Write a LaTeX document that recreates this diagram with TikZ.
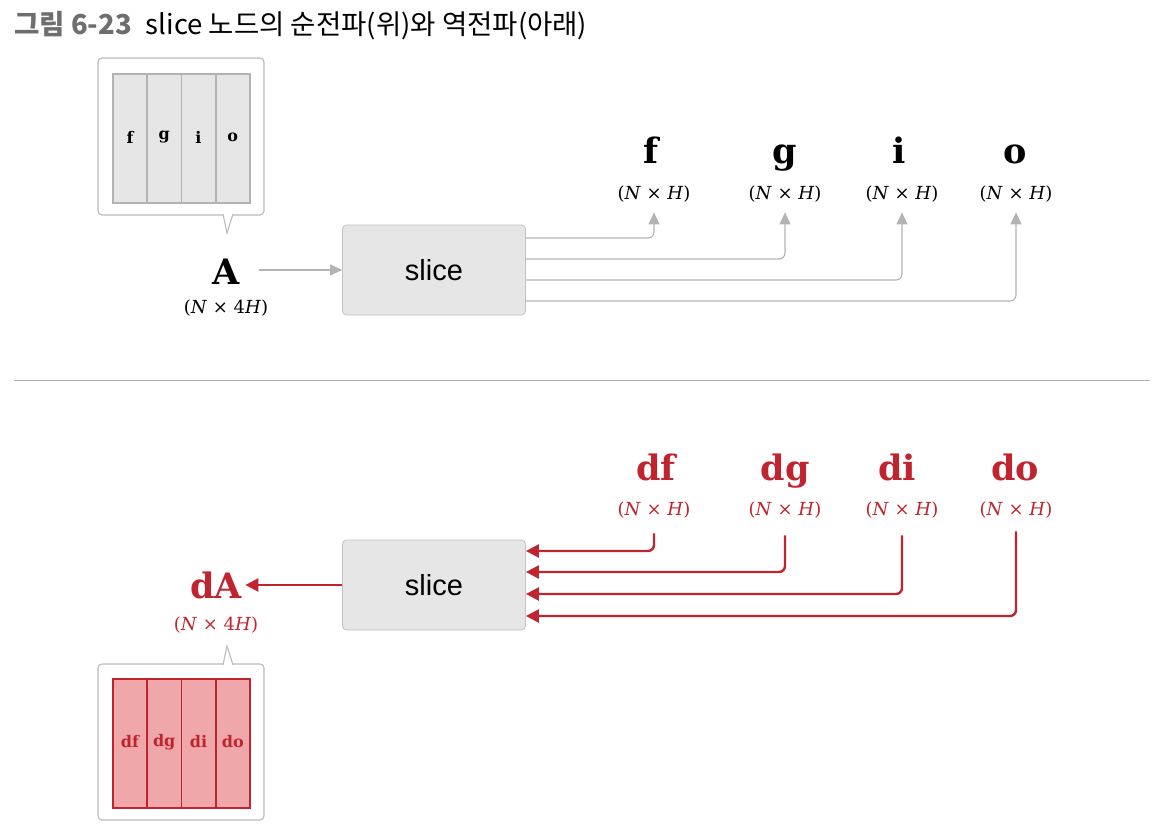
\documentclass[tikz,border=0pt]{standalone}
\usepackage{fontspec}
\setmainfont{DejaVu Serif}
\newfontfamily\krfont{Noto Sans CJK KR}
\newfontfamily\boxfont{Liberation Sans}
\usetikzlibrary{arrows.meta}
\definecolor{boxgray}{HTML}{E6E6E6}
\definecolor{linegray}{HTML}{B3B3B3}
\definecolor{titlegray}{HTML}{6E6E6E}
\definecolor{gradred}{HTML}{C0252F}
\definecolor{cellred}{HTML}{EFA7AA}

\tikzset{
  opbox/.style={draw=linegray!80, fill=boxgray, rounded corners=4pt, line width=0.8pt,
    minimum width=183pt, minimum height=90pt, font=\boxfont\fontsize{29}{29}\selectfont},
  varname/.style={anchor=base, font=\bfseries\fontsize{35}{35}\selectfont},
  dimname/.style={anchor=base, font=\fontsize{18}{18}\selectfont},
  cellname/.style={font=\bfseries\fontsize{16}{16}\selectfont},
  fwd/.style={draw=linegray, line width=1.1pt, rounded corners=6pt, -{Triangle[length=12pt,width=11pt]}},
  bwd/.style={draw=gradred, line width=2.4pt, rounded corners=6pt, -{Triangle[length=13pt,width=13pt]}},
  callout/.style={draw=linegray!90, line width=1.1pt, fill=white},
}
\newcommand{\dimtext}[1]{(\textit{N} × #1\textit{H})}

\begin{document}
\begin{tikzpicture}[x=1pt,y=-1pt]
    \useasboundingbox (0,0) rectangle (1162,832);

    % title
    \node[anchor=base west, inner sep=0pt, font=\krfont\fontsize{27.5}{27.5}\selectfont] (title) at (14,35)
      {{\color{titlegray}\bfseries 그림 6-23}\hspace{14pt}slice 노드의 순전파(위)와 역전파(아래)};

    % forward (top)
    \draw[callout, rounded corners=4pt] (98,58) rectangle (264,215);
    \draw[callout] (223,214) -- (227,233) -- (233,214);
    \fill[boxgray] (113,74) rectangle (250,203);
    \foreach \name/\txt [count=\i from 0] in {cf/f, cg/g, ci/i, co/o} {
      \draw[draw=linegray, line width=1.8pt] (113+\i*34.25,74) rectangle (147.25+\i*34.25,203);
      \node[cellname] (\name) at (130+\i*34.25,137) {\txt};
    }

    \node[varname] (A) at (226,284) {A};
    \node[dimname] (Adim) at (226,313) {\dimtext{4}};

    \node[opbox] (fslice) at (434,270) {slice};

    \node[varname] (f) at (651,164) {f};
    \node[varname] (g) at (785,164) {g};
    \node[varname] (i) at (899,164) {i};
    \node[varname] (o) at (1015,164) {o};
    \node[dimname] (fdim) at (654,200) {\dimtext{}};
    \node[dimname] (gdim) at (785,200) {\dimtext{}};
    \node[dimname] (idim) at (902,200) {\dimtext{}};
    \node[dimname] (odim) at (1016,200) {\dimtext{}};

    \draw[fwd] ([xshift=16pt]A.east |- fslice.west) -- (fslice.west);
    \draw[fwd] (fslice.east |- 0,238) -| ([yshift=-6pt]fdim.south);
    \draw[fwd] (fslice.east |- 0,259) -| ([yshift=-6pt]gdim.south);
    \draw[fwd] (fslice.east |- 0,280) -| ([yshift=-6pt]idim.south);
    \draw[fwd] (fslice.east |- 0,301) -| ([yshift=-6pt]odim.south);

    % separator
    \draw[linegray, line width=1pt] (14,380) -- (1150,380);

    % backward (bottom)
    \node[opbox] (bslice) at (434,585) {slice};

    \node[varname, text=gradred] (dA) at (216,598) {dA};
    \node[dimname, text=gradred] (dAdim) at (216,630) {\dimtext{4}};

    \node[varname, text=gradred] (df) at (656,480) {df};
    \node[varname, text=gradred] (dg) at (785,480) {dg};
    \node[varname, text=gradred] (di) at (897,480) {di};
    \node[varname, text=gradred] (do) at (1015,480) {do};
    \node[dimname, text=gradred] (dfdim) at (654,515) {\dimtext{}};
    \node[dimname, text=gradred] (dgdim) at (785,515) {\dimtext{}};
    \node[dimname, text=gradred] (didim) at (902,515) {\dimtext{}};
    \node[dimname, text=gradred] (dodim) at (1016,515) {\dimtext{}};

    \draw[bwd] (bslice.west) -- (bslice.west -| dA.east);
    \draw[bwd] ([yshift=-12pt]dfdim.south) |- (bslice.east |- 0,551);
    \draw[bwd] ([yshift=-14pt]dgdim.south) |- (bslice.east |- 0,572);
    \draw[bwd] ([yshift=-14pt]didim.south) |- (bslice.east |- 0,594);
    \draw[bwd] ([yshift=-10pt]dodim.south) |- (bslice.east |- 0,616);

    \draw[callout, rounded corners=4pt] (98,664) rectangle (264,820);
    \draw[callout] (223,665) -- (227,646) -- (233,665);
    \fill[cellred] (113,679) rectangle (250,808);
    \foreach \name/\txt [count=\i from 0] in {cdf/df, cdg/dg, cdi/di, cdo/do} {
      \draw[draw=gradred, line width=1.8pt] (113+\i*34.25,679) rectangle (147.25+\i*34.25,808);
      \node[cellname, text=gradred] (\name) at (130+\i*34.25,742) {\txt};
    }
\end{tikzpicture}
\end{document}
